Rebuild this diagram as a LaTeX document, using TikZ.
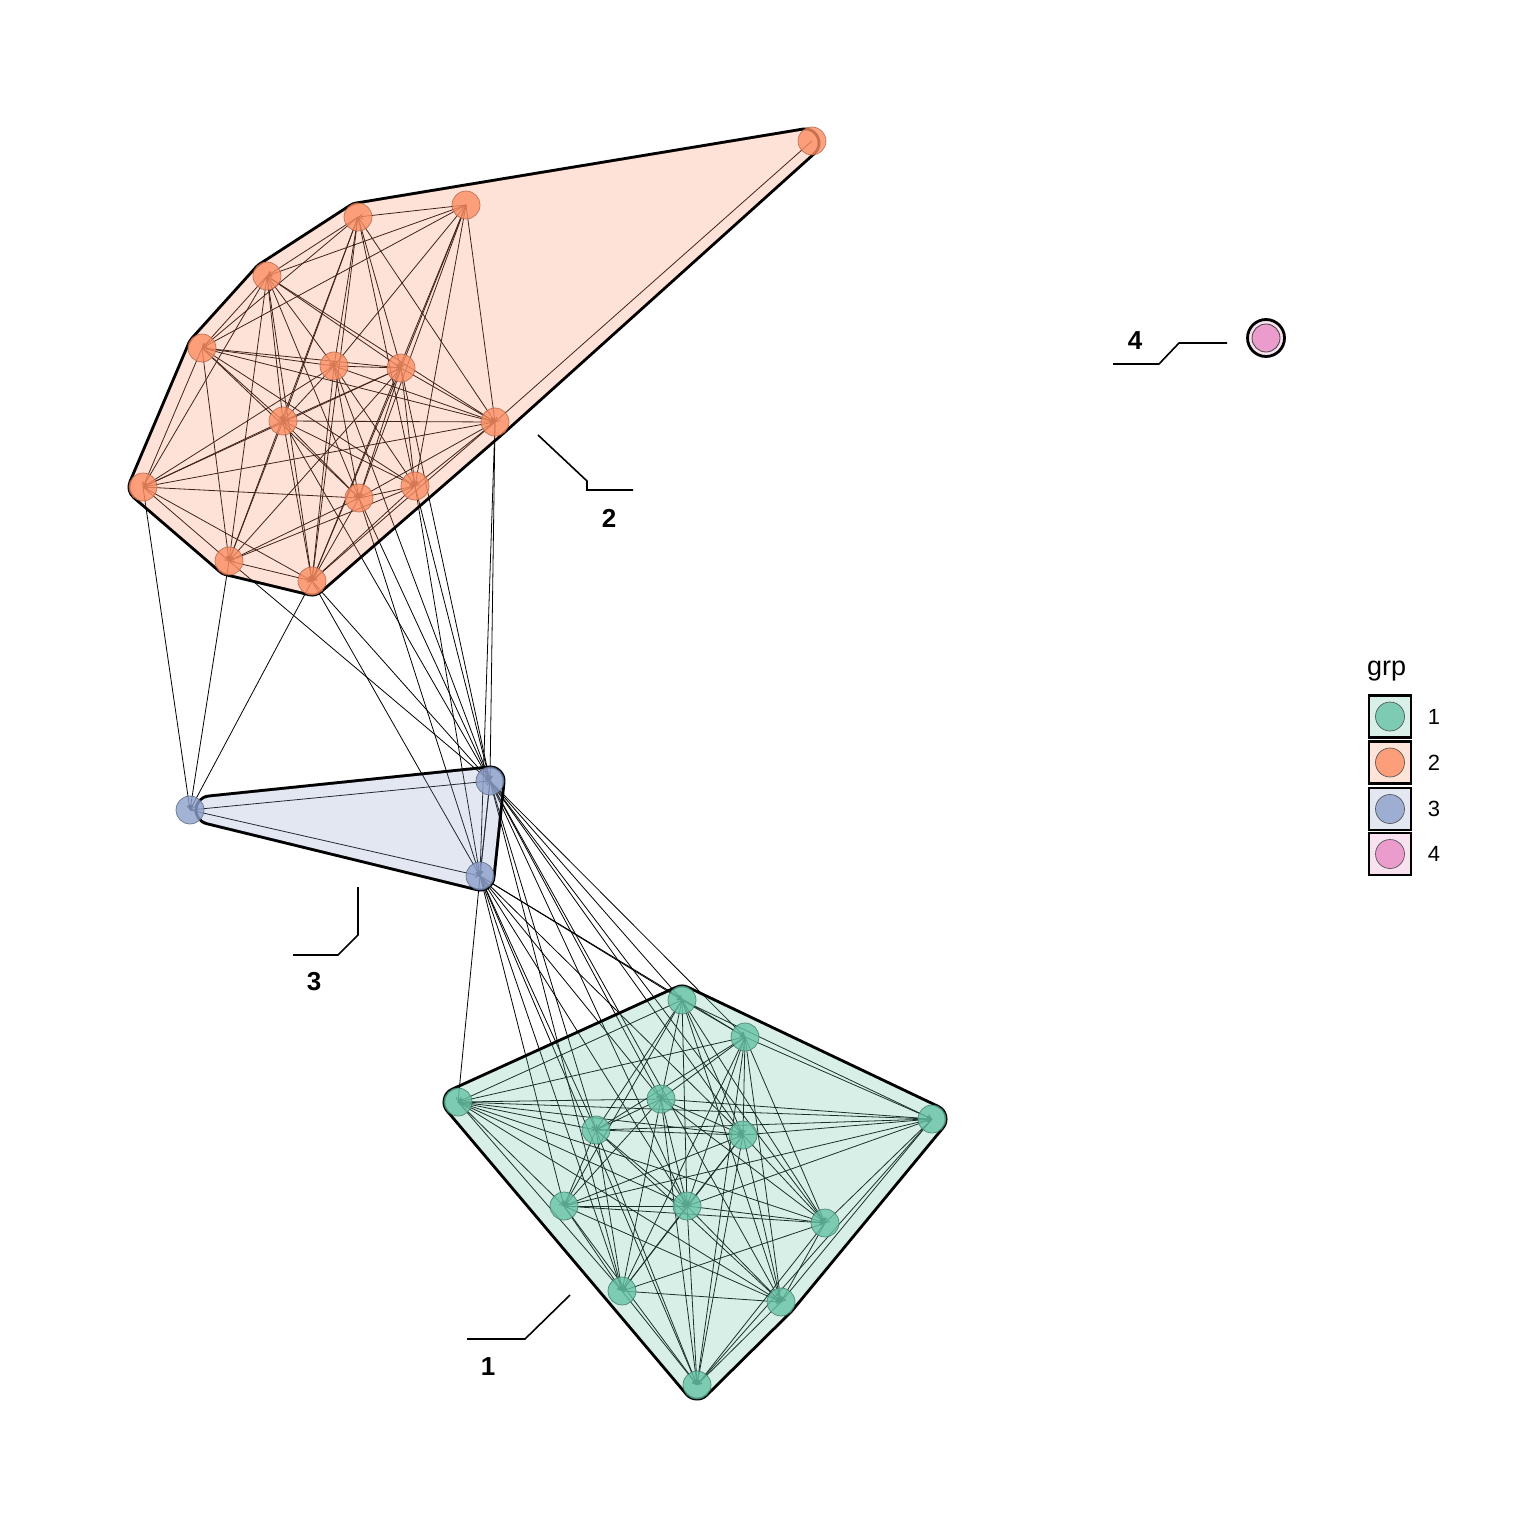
\documentclass[tikz,border=0pt]{standalone}
\usepackage{fontspec}
\setmainfont{Liberation Sans}
\usetikzlibrary{arrows.meta}
\pgfdeclarelayer{hullA}
\pgfdeclarelayer{edges}
\pgfdeclarelayer{hullB}
\pgfsetlayers{hullA,edges,hullB,main}
\definecolor{gS}{HTML}{66C2A5}
\definecolor{oS}{HTML}{FC8D62}
\definecolor{bS}{HTML}{8DA0CB}
\definecolor{pS}{HTML}{E78AC3}
\definecolor{gL}{RGB}{217,240,233}
\definecolor{oL}{RGB}{254,227,216}
\definecolor{bL}{RGB}{227,231,242}
\definecolor{pL}{RGB}{249,226,240}
\definecolor{gK}{RGB}{125,203,179}
\definecolor{oK}{RGB}{252,158,122}
\definecolor{bK}{RGB}{158,174,211}
\definecolor{pK}{RGB}{235,156,204}
% pairs left out inside the two dense groups
\pgfkeyssetvalue{/skipO/2-10}{1}\pgfkeyssetvalue{/skipO/2-13}{1}
\pgfkeyssetvalue{/skipO/3-10}{1}\pgfkeyssetvalue{/skipO/4-12}{1}
\pgfkeyssetvalue{/skipO/6-13}{1}\pgfkeyssetvalue{/skipO/9-13}{1}
\pgfkeyssetvalue{/skipO/10-12}{1}\pgfkeyssetvalue{/skipO/2-8}{1}
\pgfkeyssetvalue{/skipO/5-14}{1}\pgfkeyssetvalue{/skipO/3-11}{1}
\pgfkeyssetvalue{/skipG/1-13}{1}\pgfkeyssetvalue{/skipG/4-13}{1}
\pgfkeyssetvalue{/skipG/7-11}{1}\pgfkeyssetvalue{/skipG/2-8}{1}
\pgfkeyssetvalue{/skipG/1-11}{1}\pgfkeyssetvalue{/skipG/3-12}{1}
\pgfkeyssetvalue{/skipG/5-10}{1}
\newcommand\hullOpath{(H1) -- (O9.center) -- (O14.center) -- (O13.center) -- (O10.center) -- (O5.center) -- (O4.center) -- (O3.center) -- cycle}
\newcommand\hullBpath{(HB1) -- (B2.center) -- (B3.center) -- cycle}
\newcommand\hullGpath{(G4.center) -- (G1.center) -- (G7.center) -- (G12.center) -- (G13.center) -- cycle}
\begin{document}
\begin{tikzpicture}[x=1bp,y=-1bp,
  vnode/.style={circle, minimum size=28bp, inner sep=0pt, fill opacity=0.8, draw opacity=0.8, line width=0.7bp},
  onode/.style={vnode, fill=oS, draw=oS!70!black},
  bnode/.style={vnode, fill=bS, draw=bS!60!black},
  gnode/.style={vnode, fill=gS, draw=gS!60!black},
  pnode/.style={circle, minimum size=28bp, inner sep=0pt, fill=pK, draw=black!75, line width=0.8bp},
  lnk/.style={black, line width=0.8bp, -{Straight Barb[length=4bp,width=5bp]}},
  ringout/.style={black, line width=31bp, line join=round},
  ringin/.style={white, fill=white, line width=25bp, line join=round},
  tint/.style={line width=25.4bp, line join=round},
  leader/.style={black, line width=1.6bp},
  grplab/.style={font=\fontsize{26bp}{30bp}\selectfont\bfseries, inner sep=0pt},
  keybox/.style={draw=black, line width=2.2bp, minimum size=42bp, inner sep=0pt},
  keydot/.style={circle, minimum size=29bp, inner sep=0pt, draw=black!65, line width=0.7bp},
  keylab/.style={font=\fontsize{22bp}{26bp}\selectfont, inner sep=0pt}
]
\useasboundingbox (0,0) rectangle (1536,1536);

% ---------- nodes ----------
\foreach \n/\x/\y in {1/812/141, 2/466/205, 3/358/217, 4/267/276, 5/202/348,
  6/334/366, 7/401/368, 8/283/421, 9/495/422, 10/143/487, 11/359/498,
  12/415/486, 13/229/561, 14/312/581}
  \node[onode] (O\n) at (\x,\y) {};
\foreach \n/\x/\y in {1/190/810, 2/490/781, 3/480/876}
  \node[bnode] (B\n) at (\x,\y) {};
\foreach \n/\x/\y in {1/682/1000, 2/745/1037, 3/661/1099, 4/458/1102, 5/596/1130,
  6/743/1135, 7/932/1119, 8/564/1206, 9/687/1206, 10/825/1223, 11/622/1291,
  12/781/1302, 13/697/1385}
  \node[gnode] (G\n) at (\x,\y) {};
\node[pnode] (P1) at (1266,338) {};
\coordinate (H1) at (805,143);
\coordinate (HB1) at (210,810);

% ---------- hull outlines (below edges) ----------
\begin{pgfonlayer}{hullA}
  \fill[white] (0,0) rectangle (1536,1536);
  \draw[ringout] \hullOpath;
  \draw[ringin] \hullOpath;
  \draw[ringout] \hullBpath;
  \draw[ringin] \hullBpath;
  \draw[ringout] \hullGpath;
  \draw[ringin] \hullGpath;
  \draw[black, line width=2.8bp, fill=pL] (P1.center) circle[radius=18.5];
\end{pgfonlayer}

% ---------- edges ----------
\begin{pgfonlayer}{edges}
  \foreach \i in {2,...,14}{\foreach \j in {2,...,14}{%
    \ifnum\i<\j \pgfkeysifdefined{/skipO/\i-\j}{}{\draw[lnk] (O\i.center) -- (O\j.center);}\fi}}
  \foreach \i in {1,...,13}{\foreach \j in {1,...,13}{%
    \ifnum\i<\j \pgfkeysifdefined{/skipG/\i-\j}{}{\draw[lnk] (G\i.center) -- (G\j.center);}\fi}}
  \draw[lnk] (O1.center) -- (O9.center);
  \foreach \a/\b in {O10/B1, O13/B1, O14/B1, B1/B2, B1/B3, B2/B3, B3/B2,
    O6/B2, O7/B2, O8/B2, O9/B2, O11/B2, O12/B2, O13/B2, O14/B2,
    O9/B3, O11/B3, O12/B3, O14/B3,
    B2/G1, B2/G2, B2/G3, B2/G5, B2/G6, B2/G9, B2/G10, B2/G11, B2/G12,
    B3/G1, B3/G2, B3/G3, B3/G4, B3/G5, B3/G6, B3/G8, B3/G9, B3/G11, B3/G13}
    \draw[lnk] (\a.center) -- (\b.center);
\end{pgfonlayer}

% ---------- hull tint (over edges) ----------
\begin{pgfonlayer}{hullB}
  \begin{scope}[transparency group, opacity=0.25]
    \draw[tint, oS, fill=oS] \hullOpath;
  \end{scope}
  \begin{scope}[transparency group, opacity=0.25]
    \draw[tint, bS, fill=bS] \hullBpath;
  \end{scope}
  \begin{scope}[transparency group, opacity=0.25]
    \draw[tint, gS, fill=gS] \hullGpath;
  \end{scope}
\end{pgfonlayer}

% ---------- group labels ----------
\coordinate (a1) at (570,1295); \coordinate (b1) at (525,1339); \coordinate (c1) at (467,1339);
\draw[leader] (a1) -- (b1) -- (c1);
\node[grplab] (L1) at (488,1367) {1};
\coordinate (a2) at (538,435); \coordinate (b2) at (587,481); \coordinate (c2) at (587,490); \coordinate (d2) at (633,490);
\draw[leader] (a2) -- (b2) -- (c2) -- (d2);
\node[grplab] (L2) at (609,518) {2};
\coordinate (a3) at (358,887); \coordinate (b3) at (358,935); \coordinate (c3) at (338,955); \coordinate (d3) at (293,955);
\draw[leader] (a3) -- (b3) -- (c3) -- (d3);
\node[grplab] (L3) at (314,982) {3};
\coordinate (a4) at (1113,364); \coordinate (b4) at (1159,364); \coordinate (c4) at (1179,343); \coordinate (d4) at (1227,343);
\draw[leader] (a4) -- (b4) -- (c4) -- (d4);
\node[grplab] (L4) at (1135,341) {4};

% ---------- legend ----------
\node[anchor=base west, inner sep=0pt, font=\fontsize{27bp}{32bp}\selectfont] (ltitle) at (1367,675) {grp};
\foreach \k/\y/\cl/\ck in {1/716.5/gL/gK, 2/762.5/oL/oK, 3/809/bL/bK, 4/854/pL/pK}{
  \node[keybox, fill=\cl] (key\k) at (1390,\y) {};
  \node[keydot, fill=\ck] (kdot\k) at (1390,\y) {};
  \node[keylab] (klab\k) at (1434,\y) {\k};
}
\end{tikzpicture}
\end{document}
